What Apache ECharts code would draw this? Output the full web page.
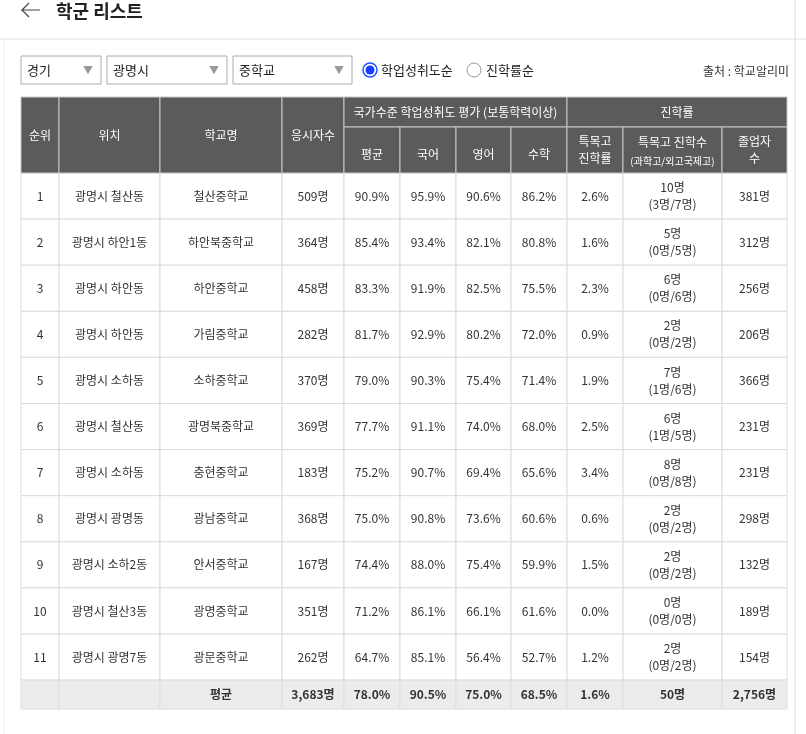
<!DOCTYPE html><html><head><meta charset="utf-8">
<script src="https://cdn.jsdelivr.net/npm/echarts@6/dist/echarts.min.js"></script>
<style>html,body{margin:0;padding:0;background:#fff}#c{width:806px;height:734px}</style></head><body><div id="c"></div>
<script>
const ranks=['1','2','3','4','5','6','7','8','9','10','11'];
const locations=['광명시 철산동','광명시 하안1동','광명시 하안동','광명시 하안동','광명시 소하동','광명시 철산동','광명시 소하동','광명시 광명동','광명시 소하2동','광명시 철산3동','광명시 광명7동'];
const schools=['철산중학교','하안북중학교','하안중학교','가림중학교','소하중학교','광명북중학교','충현중학교','광남중학교','안서중학교','광명중학교','광문중학교'];
const examinees=['509명','364명','458명','282명','370명','369명','183명','368명','167명','351명','262명'];
const avgScore=[90.9,85.4,83.3,81.7,79.0,77.7,75.2,75.0,74.4,71.2,64.7];
const korean=[95.9,93.4,91.9,92.9,90.3,91.1,90.7,90.8,88.0,86.1,85.1];
const english=[90.6,82.1,82.5,80.2,75.4,74.0,69.4,73.6,75.4,66.1,56.4];
const math=[86.2,80.8,75.5,72.0,71.4,68.0,65.6,60.6,59.9,61.6,52.7];
const specialRate=[2.6,1.6,2.3,0.9,1.9,2.5,3.4,0.6,1.5,0.0,1.2];
const specialCount=['10명','5명','6명','2명','7명','6명','8명','2명','2명','0명','2명'];
const specialDetail=['(3명/7명)','(0명/5명)','(0명/6명)','(0명/2명)','(1명/6명)','(1명/5명)','(0명/8명)','(0명/2명)','(0명/2명)','(0명/0명)','(0명/2명)'];
const graduates=['381명','312명','256명','206명','366명','231명','231명','298명','132명','189명','154명'];
const footer=['','','평균','3,683명','78.0%','90.5%','75.0%','68.5%','1.6%','50명','2,756명'];

// layout (px units on hidden value axes)
const colEdges=[21,59,160,282,344,400,456,511,567,623,722,787];
const headTop=97, headMid=127, bodyTop=173, rowH=46.1, footH=29;
const F='"Noto Sans CJK KR","Noto Sans",sans-serif';
const rows=ranks.map((r,i)=>[i]);
const rowsData=ranks.map((r,i)=>[r,locations[i],schools[i],examinees[i],avgScore[i].toFixed(1)+'%',korean[i].toFixed(1)+'%',english[i].toFixed(1)+'%',math[i].toFixed(1)+'%',specialRate[i].toFixed(1)+'%',specialCount[i]+'\n'+specialDetail[i],graduates[i]]);

function rect(api,x0,y0,x1,y1,fill,stroke){
  const a=api.coord([x0,y0]),b=api.coord([x1,y1]);
  return {type:'rect',shape:{x:a[0],y:a[1],width:b[0]-a[0],height:b[1]-a[1]},style:{fill:fill,stroke:stroke,lineWidth:1}};
}
function txt(api,x,y,t,opt){
  const p=api.coord([x,y]);
  return {type:'text',x:p[0],y:p[1],style:Object.assign({text:t,fontFamily:F,fontSize:12,fill:'#333',align:'center',verticalAlign:'middle',lineHeight:17},opt||{})};
}
function renderBody(params,api){
  const i=api.value(0);const ch=[];
  const y0=bodyTop+i*rowH,y1=y0+rowH;
  for(let c=0;c<11;c++){
    ch.push(rect(api,colEdges[c],y0,colEdges[c+1],y1,'#fff','#ddd'));
    ch.push(txt(api,(colEdges[c]+colEdges[c+1])/2,(y0+y1)/2,rowsData[i][c]));
  }
  return {type:'group',children:ch};
}
function renderHead(params,api){
  const ch=[];const bg='#5b5b5b',ln='#c8c8c8';
  const W={fill:'#fff',fontSize:12};
  const full=[[0,'순위'],[1,'위치'],[2,'학교명'],[3,'응시자수']];
  full.forEach(([c,t])=>{ch.push(rect(api,colEdges[c],headTop,colEdges[c+1],bodyTop,bg,ln));ch.push(txt(api,(colEdges[c]+colEdges[c+1])/2,(headTop+bodyTop)/2,t,W));});
  ch.push(rect(api,colEdges[4],headTop,colEdges[8],headMid,bg,ln));ch.push(txt(api,(colEdges[4]+colEdges[8])/2,(headTop+headMid)/2,'국가수준 학업성취도 평가 (보통학력이상)',W));
  ch.push(rect(api,colEdges[8],headTop,colEdges[11],headMid,bg,ln));ch.push(txt(api,(colEdges[8]+colEdges[11])/2,(headTop+headMid)/2,'진학률',W));
  ['평균','국어','영어','수학'].forEach((t,k)=>{const c=4+k;ch.push(rect(api,colEdges[c],headMid,colEdges[c+1],bodyTop,bg,ln));ch.push(txt(api,(colEdges[c]+colEdges[c+1])/2,(headMid+bodyTop)/2+4,t,W));});
  ch.push(rect(api,colEdges[8],headMid,colEdges[9],bodyTop,bg,ln));ch.push(txt(api,(colEdges[8]+colEdges[9])/2,(headMid+bodyTop)/2,'특목고\n진학률',W));
  ch.push(rect(api,colEdges[9],headMid,colEdges[10],bodyTop,bg,ln));
  ch.push(txt(api,(colEdges[9]+colEdges[10])/2,(headMid+bodyTop)/2-8,'특목고 진학수',W));
  ch.push(txt(api,(colEdges[9]+colEdges[10])/2,(headMid+bodyTop)/2+11,'(과학고/외고국제고)',{fill:'#fff',fontSize:10}));
  ch.push(rect(api,colEdges[10],headMid,colEdges[11],bodyTop,bg,ln));ch.push(txt(api,(colEdges[10]+colEdges[11])/2,(headMid+bodyTop)/2,'졸업자\n수',W));
  // footer
  const fy0=bodyTop+ranks.length*rowH,fy1=fy0+footH;
  for(let c=0;c<11;c++){ch.push(rect(api,colEdges[c],fy0,colEdges[c+1],fy1,'#ececec','#ddd'));ch.push(txt(api,(colEdges[c]+colEdges[c+1])/2,(fy0+fy1)/2,footer[c],{fontWeight:'bold',fill:'#333'}));}
  return {type:'group',children:ch};
}
function dd(x,w,t){return [
 {type:'rect',shape:{x:x,y:56,width:w,height:28},style:{fill:'#fff',stroke:'#aaa'}},
 {type:'text',x:x+6,y:70,style:{text:t,fontFamily:F,fontSize:13,fill:'#222',verticalAlign:'middle'}},
 {type:'text',x:x+w-18,y:70,style:{text:'▼',fontFamily:F,fontSize:10,fill:'#999',verticalAlign:'middle'}}];}
const chart=echarts.init(document.getElementById('c'));
chart.setOption({
  animation:false,
  grid:{left:0,right:0,top:0,bottom:0},
  xAxis:{type:'value',min:0,max:806,show:false},
  yAxis:{type:'value',min:0,max:734,inverse:true,show:false},
  graphic:[
    {type:'polyline',shape:{points:[[40,10],[22,10],[29,3],[22,10],[29,17]]},style:{stroke:'#444',lineWidth:1.2,fill:null}},
    {type:'text',x:56,y:11,style:{text:'학군 리스트',fontFamily:F,fontSize:18,fontWeight:'bold',fill:'#222',verticalAlign:'middle'}},
    {type:'line',shape:{x1:0,y1:39,x2:806,y2:39},style:{stroke:'#e3e3e3'}},
    {type:'line',shape:{x1:4,y1:40,x2:4,y2:734},style:{stroke:'#eee'}},
    {type:'line',shape:{x1:795,y1:0,x2:795,y2:734},style:{stroke:'#ddd'}},
    ...dd(21,80,'경기'),...dd(107,120,'광명시'),...dd(233,119,'중학교'),
    {type:'circle',shape:{cx:370,cy:70,r:7},style:{fill:'#fff',stroke:'#1a56ff',lineWidth:1.5}},
    {type:'circle',shape:{cx:370,cy:70,r:4.5},style:{fill:'#1a3cff'}},
    {type:'text',x:381,y:70,style:{text:'학업성취도순',fontFamily:F,fontSize:13,fill:'#222',verticalAlign:'middle'}},
    {type:'circle',shape:{cx:474,cy:70,r:7},style:{fill:'#fff',stroke:'#999',lineWidth:1}},
    {type:'text',x:486,y:70,style:{text:'진학률순',fontFamily:F,fontSize:13,fill:'#222',verticalAlign:'middle'}},
    {type:'text',x:789,y:71,style:{text:'출처 : 학교알리미',fontFamily:F,fontSize:12,fill:'#333',align:'right',verticalAlign:'middle'}}
  ],
  series:[
    {type:'custom',renderItem:renderBody,data:rows,silent:true},
    {type:'custom',renderItem:renderHead,data:[[0]],silent:true}
  ]
});
</script></body></html>
